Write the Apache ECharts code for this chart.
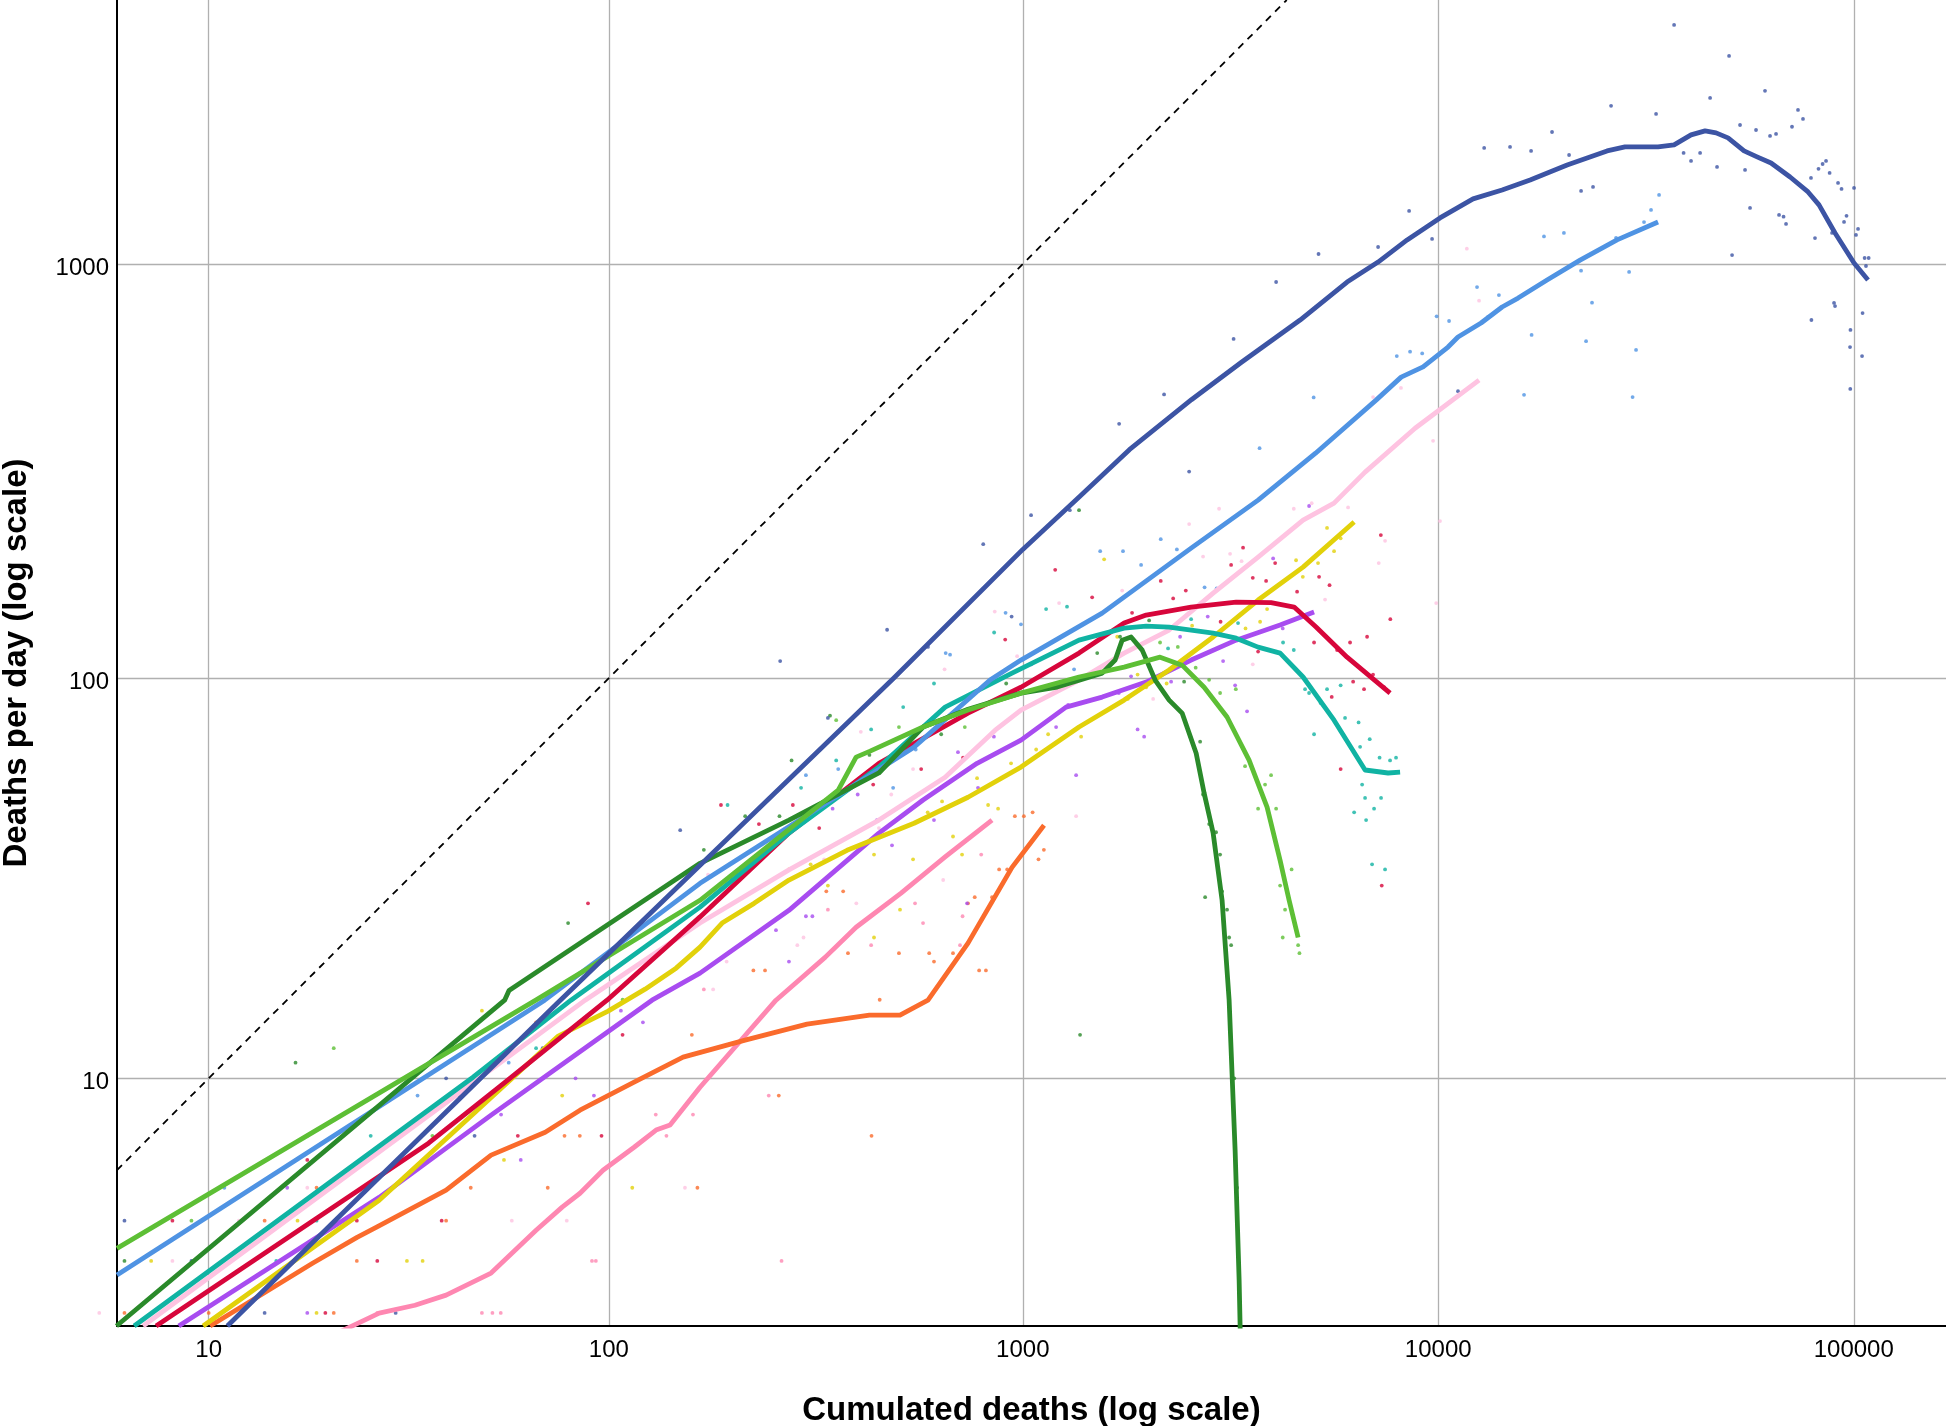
<!DOCTYPE html>
<html><head><meta charset="utf-8">
<script src="https://cdn.jsdelivr.net/npm/echarts@6/dist/echarts.min.js"></script>
<style>html,body{margin:0;padding:0;background:#fff;} #chart{width:1946px;height:1426px;}</style>
</head><body><div id="chart"></div>
<script>
// ---- axes (values; the chart uses a log10(v + 1) scale on both axes) ----
const X_TICKS = [10, 100, 1000, 10000, 100000];
const Y_TICKS = [10, 100, 1000];
const X_RANGE = [5.62, 166700];
const Y_RANGE = [1.79, 4320];
const DIAGONAL = [[5.62, 5.62], [4320, 4320]];   // deaths per day = cumulated deaths

// ---- smoothed curves: [cumulated deaths, deaths per day] ----
const darkBlueLine = [[11.2,1.79],[75,15.7],[489,100],[1000,205],[1371,275],[1806,357],[2547,471],[3355,579],[4652,733],[6035,905],[7167,1011],[8418,1143],[10100,1291],[12130,1435],[14250,1508],[16640,1594],[20430,1732],[25490,1872],[28150,1914],[33810,1914],[36950,1935],[40590,2046],[43870,2092],[46630,2069],[49820,2012],[54450,1872],[58520,1811],[63230,1751],[70270,1620],[77620,1491],[82480,1388],[90140,1188],[100140,1006],[108200,915]];
const lightBlueLine = [[5.62,2.70],[69.8,15.96],[166.4,31.4],[547,67.9],[834,98.9],[990,110.6],[1553,143.7],[2543,206.5],[3686,269.7],[5068,350],[7087,470],[8143,534],[9197,565],[10560,631],[11160,667],[12680,721],[14250,788],[15570,828],[18280,915],[21950,1022],[26940,1143],[33810,1262]];
const lightGreenLine = [[5.62,3.29],[66.4,15.96],[166.4,28.5],[359,53.3],[396.5,64.2],[428.6,66.4],[575,76],[738,83.6],[990,91.9],[1366,100.6],[1754,106.3],[2141,112.4],[2419,107.5],[2733,95],[3103,80.4],[3506,63.1],[3874,48.4],[4164,35.8],[4377,28.5],[4601,23.0]];
const darkGreenLine = [[5.6,1.79],[55.7,15.96],[57.1,16.9],[166.4,35.2],[273,45],[450,58.7],[575,76],[738,84],[990,91.9],[1210,95.1],[1553,102.8],[1669,110.6],[1735,123.6],[1823,125.8],[1939,116.9],[2083,98.9],[2251,88.4],[2419,82.2],[2615,65.6],[2733,52.4],[2873,41.8],[3019,28.5],[3139,15.96],[3245,6.39],[3318,2.6],[3360,1.0]];
const tealLine = [[6.28,1.79],[46.6,10.07],[80.9,15.96],[166.4,27.4],[273,41.8],[450,60.7],[650,85],[942,102.8],[1366,123.6],[1754,132.2],[1982,133.7],[2251,133],[2873,128.6],[3263,125],[3686,118.9],[4164,115],[4729,100.6],[5615,79],[6668,59.7],[7575,58.7],[8096,59]];
const redLine = [[7.22,1.79],[36.2,6.68],[55.5,9.71],[99,15.96],[166.4,25.9],[273,41.8],[450,62],[738,82.2],[990,95],[1366,115],[1754,136],[1982,142.2],[2543,148.7],[3263,152.9],[3961,152.4],[4500,148.7],[5082,133],[6035,112.4],[7659,91.9]];
const lightPinkLine = [[6.65,1.79],[87.6,15.96],[166.4,25],[273,33.9],[450,45],[650,57.3],[858,74.7],[990,83.6],[1366,98.9],[1754,115],[2251,130.8],[2873,160.7],[3686,196.5],[4729,241.3],[5615,265.2],[6668,315],[8797,402],[12540,525]];
const yellowLine = [[9.67,1.79],[27.3,4.60],[75.3,12.9],[99.6,14.96],[122.5,17.03],[145.6,19.25],[166.4,21.75],[188.2,25],[224.9,28],[273,32],[377,37.9],[547,44.2],[738,51.2],[990,60.7],[1366,76],[1754,88.4],[2251,104.6],[2873,125.8],[3686,154.6],[4729,185.7],[6276,238.7]];
const purpleLine = [[8.32,1.79],[27.3,4.69],[51.6,7.97],[127.3,15.96],[166.4,18.7],[273,26.9],[450,41.8],[575,50.4],[776,62],[990,70.6],[1271,85],[1553,89.9],[1982,97.8],[2543,110.6],[3263,123.6],[4164,134.5],[5026,144.6]];
const orangeLine = [[10.09,1.79],[18.56,2.95],[24.03,3.56],[26.97,3.83],[40,4.92],[51.6,6.19],[70,7.16],[85.1,8.22],[115.2,9.77],[151.4,11.37],[213.9,12.59],[301.9,13.85],[427,14.61],[506,14.61],[591,15.96],[738,22.26],[942,34.4],[1125,43.7]];
const hotPinkLine = [[20,1.6],[27.3,1.995],[33.5,2.13],[40,2.31],[51.6,2.74],[66.5,3.74],[77,4.39],[85.1,4.82],[96.8,5.61],[115.2,6.51],[130.2,7.26],[140.8,7.49],[166.4,9.47],[254,15.96],[333.7,20.5],[396.5,24.4],[509,29.7],[650,36.5],[843,45]];

// ---- daily observations: [cumulated deaths, deaths per day] ----
const darkBlueDots = [[5.9,4],[9,3],[14,2],[30,2],[40,10],[47,7],[69,12],[149,42.5],[260,110],[339,80],[471,131],[591,119],[803,211],[940,141],[1047,248],[1298,255],[1706,412],[2189,485],[2515,316],[3218,660],[4073,905],[5152,1057],[7167,1099],[8511,1342],[9666,1149],[11160,494],[12900,1903],[14890,1914],[16730,1872],[18790,2079],[20650,1830],[22070,1500],[23580,1533],[26060,2403],[33440,2298],[36950,3763],[38950,1851],[40590,1771],[42680,1851],[45110,2511],[46880,1713],[50110,3169],[50950,1051],[53250,2161],[54750,1685],[56280,1365],[58180,2102],[61150,2611],[62880,2034],[65010,2057],[66100,1313],[67770,1300],[68710,1249],[71020,2140],[73420,2349],[75480,2235],[78900,1612],[79080,733],[80670,1155],[82250,1695],[84150,1741],[85760,1771],[87480,1657],[88660,1188],[89640,806],[90140,792],[91650,1568],[93450,1516],[94750,1263],[96070,1306],[97950,631],[98180,694],[98090,500],[100140,1525],[101250,1175],[102400,1215],[104700,600],[105000,762],[106200,1034],[107000,989],[108600,1034]];
const lightBlueDots = [[11,5],[18,7],[30,9],[34,9],[46,12],[57,11],[300,58],[359,60],[487,54],[552,67],[652,115],[668,114],[909,144],[990,135],[1047,108],[1329,105],[1536,203],[1743,203],[1927,188],[2149,217],[2350,205],[2740,166],[2929,165],[3716,360],[5015,477],[7950,600],[8556,615],[9150,609],[9914,748],[10620,729],[12400,880],[13180,746],[14000,842],[16090,484],[16780,675],[17970,1165],[20070,1188],[22070,964],[22690,652],[23450,807],[26790,1156],[28800,957],[29360,478],[29930,621],[31280,1262],[32520,1350],[34000,1467]];
const lightGreenDots = [[9,4],[21,12],[37,7],[108,16],[355,79],[503,76],[725,76],[2141,122],[2362,119],[2608,106],[2810,99],[2986,92],[3258,94],[3429,61],[3686,48],[3831,55],[3961,58],[4073,48],[4164,31],[4225,23],[4280,27],[4438,34],[4601,22],[4635,21]];
const darkGreenDots = [[5.9,3],[16.8,11],[75,15],[79.6,25],[170,38],[214,46],[259,46],[277,63],[343,81],[427,65],[636,73],[912,97],[1366,255],[1374,13],[1511,115],[1715,126],[2015,138],[2446,98],[2673,70],[2717,52],[2748,29],[2810,44],[2920,42],[2986,37],[3019,30],[3103,27],[3139,23],[3174,22],[3230,10],[3280,5]];
const tealDots = [[15,3],[19,4],[26,7],[43,9],[66.5,12],[194,49],[292,54],[355,63],[431,75],[515,85],[611,97],[853,129],[1138,147],[1278,149],[2238,118],[2543,139],[3298,136],[4233,122],[4492,117],[4782,94],[4889,92],[5026,73],[5211,87],[5401,94],[5824,96],[5968,80],[6276,47],[6433,78],[6487,68],[6560,55],[6668,51],[6706,45],[6842,71],[6932,35],[7009,48],[7226,64],[7286,51],[7450,34],[7659,63],[7916,64]];
const redDots = [[8,4],[18,6],[20,2],[24,4],[27,3],[39,4],[60,7],[89,28],[96,7],[108,13],[187,49],[231,44],[279,49],[323,43],[436,55],[569,60],[718,64],[907,124],[1197,183],[1469,157],[1833,144],[2149,172],[2302,156],[2469,163],[2994,137],[3174,188],[3391,207],[3579,175],[3686,116],[3853,172],[4051,190],[4575,162],[5026,122],[5168,176],[5476,168],[5543,90],[5710,117],[5824,60],[6136,122],[6241,98],[6630,94],[6743,126],[6970,102],[7277,222],[7314,31],[7407,95],[7670,139]];
const lightPinkDots = [[5,2],[8,3],[12,4],[18,5],[58,4],[79,4],[153,5],[174,33],[179,17],[193,20],[286,22],[296,23],[332,36],[397,28],[407,74],[450,43],[482,52],[544,60],[643,32],[648,105],[856,145],[969,113],[1223,152],[1344,46],[1735,163],[2060,89],[2515,236],[2717,197],[2969,257],[3156,200],[3363,192],[3579,108],[4492,257],[4960,265],[5342,155],[6069,259],[6970,478],[7192,190],[7450,215],[8135,503],[9720,375],[9890,152],[10100,240],[11720,1089],[12540,816]];
const yellowDots = [[7,3],[17,4],[19,2],[32,3],[35,3],[49,15],[55.5,6],[77,9],[114,5],[273,34],[308,35],[339,31],[438,23],[438,37],[506,27],[544,36],[590,47],[639,50],[679,41],[714,37],[776,57],[825,49],[872,48],[937,62],[1077,67],[1151,73],[1382,72],[1570,194],[1688,126],[1790,89],[1890,102],[1982,95],[2220,97],[2557,134],[3438,132],[3727,137],[3874,147],[4549,193],[4722,176],[5138,190],[5401,231],[5615,203],[5824,218]];
const purpleDots = [[16,5],[18,2],[54.6,8],[61,6],[83,10],[92,9],[107,15],[121,14],[254,24],[273,20],[300,26],[311,26],[348,48],[400,52],[445,45],[484,39],[611,45],[698,66],[734,28],[780,54],[852,72],[1047,108],[1203,76],[1286,86],[1344,58],[1703,92],[1823,101],[1890,75],[1960,72],[2276,98],[2392,126],[2788,141],[3036,110],[3245,96],[3467,83],[4006,195],[4225,132],[4889,261]];
const orangeDots = [[5.9,2],[10,2],[14,4],[19,5],[21,2],[24,3],[40,4],[46,5],[66.5,14],[71,5],[78,7],[85,7],[159,13],[164,5],[224,19],[239,19],[258,9],[336,30],[369,30],[379,21],[432,7],[452,16],[503,21],[595,21],[611,20],[679,21],[738,28],[766,29],[785,19],[815,19],[843,29],[877,34],[917,34],[957,46],[1006,46],[1056,47],[1091,36],[1124,38]];
const hotPinkDots = [[27,2],[48,14],[49,2],[52,2],[54.5,2],[91,3],[93,3],[130,8],[138,7],[160,8],[170,17],[244,9],[262,3],[339,27],[431,22],[550,28],[575,25],[706,22],[716,26],[794,37]];

// ---- colours (style) ----
const groups = [
  { key: 'hotPink',    color: '#fe87b1', line: hotPinkLine,    dots: hotPinkDots },
  { key: 'orange',     color: '#fa6b2c', line: orangeLine,     dots: orangeDots },
  { key: 'purple',     color: '#a84cf0', line: purpleLine,     dots: purpleDots },
  { key: 'yellow',     color: '#e2d10a', line: yellowLine,     dots: yellowDots },
  { key: 'lightPink',  color: '#fec3e1', line: lightPinkLine,  dots: lightPinkDots },
  { key: 'red',        color: '#d7063b', line: redLine,        dots: redDots },
  { key: 'teal',       color: '#10b3a3', line: tealLine,       dots: tealDots },
  { key: 'lightBlue',  color: '#4f93e3', line: lightBlueLine,  dots: lightBlueDots },
  { key: 'darkGreen',  color: '#2a8a2a', line: darkGreenLine,  dots: darkGreenDots },
  { key: 'lightGreen', color: '#5dbf35', line: lightGreenLine, dots: lightGreenDots },
  { key: 'darkBlue',   color: '#3c54a4', line: darkBlueLine,   dots: darkBlueDots }
];

const t = v => Math.log10(v + 1);
const back = v => String(Math.round(Math.pow(10, v) - 1));
const FONT = "'Liberation Sans', Arial, Helvetica, sans-serif";

const series = [];
groups.forEach(g => {
  series.push({
    name: g.key + ' obs', type: 'scatter', silent: true, clip: false, z: 1,
    symbol: 'circle', symbolSize: 3.8,
    itemStyle: { color: g.color },
    data: g.dots.map(([x, y]) => [t(x), t(y)])
  });
});
groups.forEach((g, i) => {
  series.push({
    name: g.key, type: 'line', silent: true, z: 3 + i,
    showSymbol: false, symbol: 'none', smooth: false,
    lineStyle: { color: g.color, width: 4.8, cap: 'butt', join: 'round' },
    data: g.line.map(([x, y]) => [t(x), t(y)])
  });
});
series.push({
  name: 'y = x', type: 'line', silent: true, z: 20, showSymbol: false, symbol: 'none',
  lineStyle: { color: '#000', width: 1.8, type: [7, 6] },
  data: DIAGONAL.map(([x, y]) => [t(x), t(y)])
});

const chart = echarts.init(document.getElementById('chart'), null, { renderer: 'canvas' });
chart.setOption({
  animation: false,
  backgroundColor: '#fff',
  grid: { left: 117, right: 0, top: 0, bottom: 100, containLabel: false, outerBoundsMode: 'none' },
  xAxis: {
    type: 'value', min: t(X_RANGE[0]), max: t(X_RANGE[1]),
    name: 'Cumulated deaths (log scale)', nameLocation: 'middle', nameGap: 68,
    nameTextStyle: { fontFamily: FONT, fontWeight: 'bold', fontSize: 33, color: '#000' },
    axisLine: { show: true, onZero: false, lineStyle: { color: '#000', width: 2 } },
    axisTick: { show: false, customValues: X_TICKS.map(t) },
    axisLabel: { customValues: X_TICKS.map(t), formatter: back, fontFamily: FONT, fontSize: 24, color: '#000', margin: 12 },
    splitLine: { show: true, lineStyle: { color: '#b0b0b0', width: 1.3 } }
  },
  yAxis: {
    type: 'value', min: t(Y_RANGE[0]), max: t(Y_RANGE[1]),
    name: 'Deaths per day (log scale)', nameLocation: 'middle', nameGap: 84, nameRotate: 90,
    nameTextStyle: { fontFamily: FONT, fontWeight: 'bold', fontSize: 33, color: '#000' },
    axisLine: { show: true, onZero: false, lineStyle: { color: '#000', width: 2 } },
    axisTick: { show: false, customValues: Y_TICKS.map(t) },
    axisLabel: {
      customValues: Y_TICKS.map(t), margin: 8,
      formatter: v => '{n|' + back(v) + '}',
      rich: { n: { fontFamily: FONT, fontSize: 24, color: '#000', padding: [9, 0, 0, 0] } }
    },
    splitLine: { show: true, lineStyle: { color: '#b0b0b0', width: 1.3 } }
  },
  series: series
});
</script>
</body></html>
